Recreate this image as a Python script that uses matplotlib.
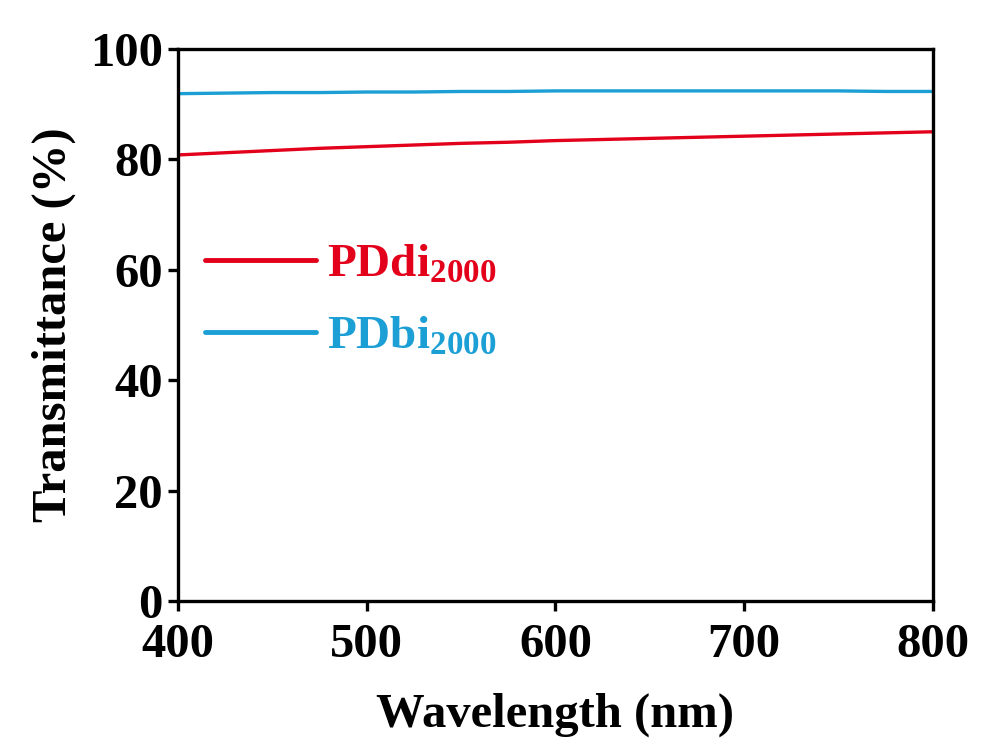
import matplotlib.pyplot as plt

# Wavelength (nm) and transmittance (%)
wavelength = [400, 425, 450, 475, 500, 525, 550, 575, 600, 625, 650, 675, 700, 725, 750, 775, 800]
pddi = [80.8, 81.2, 81.6, 82.0, 82.3, 82.6, 82.9, 83.1, 83.4, 83.6, 83.8, 84.0, 84.2, 84.4, 84.6, 84.8, 85.0]
pdbi = [91.9, 92.0, 92.1, 92.1, 92.2, 92.2, 92.3, 92.3, 92.4, 92.4, 92.4, 92.4, 92.4, 92.4, 92.4, 92.3, 92.3]

red = '#e3001b'
blue = '#1b9fd5'

plt.rcParams['font.family'] = 'Liberation Serif'
plt.rcParams['font.weight'] = 'bold'
plt.rcParams['mathtext.fontset'] = 'custom'
plt.rcParams['mathtext.rm'] = 'Liberation Serif:bold'
plt.rcParams['mathtext.bf'] = 'Liberation Serif:bold'

fig = plt.figure(figsize=(9.81, 7.53), dpi=100)
ax = fig.add_axes([0.1815, 0.2018, 0.7695, 0.7332])

# Draw the two spectra
ax.plot(wavelength, pddi, color=red, lw=2.4, label=r'$\mathrm{PDdi_{2000}}$')
ax.plot(wavelength, pdbi, color=blue, lw=2.4, label=r'$\mathrm{PDbi_{2000}}$')

ax.set_xlim(400, 800)
ax.set_ylim(0, 100)
ax.set_xticks([400, 500, 600, 700, 800])
ax.set_yticks([0, 20, 40, 60, 80, 100])

# Only left and bottom ticks, pointing outward
for s in ax.spines.values():
    s.set_linewidth(2.4)
ax.tick_params(direction='out', length=7, width=2.4, labelsize=35, pad=4)
ax.tick_params(axis='x', pad=9)
ax.set_xlabel('Wavelength (nm)', fontsize=35, fontweight='bold', labelpad=18)
ax.set_ylabel('Transmittance (%)', fontsize=35, fontweight='bold', labelpad=10)

leg = ax.legend(loc='upper left', bbox_to_anchor=(-0.021, 0.725), frameon=False,
                fontsize=34, handlelength=2.35, handletextpad=0.25, labelspacing=0.62)
for line in leg.get_lines():
    line.set_linewidth(3.5)
    line.set_solid_capstyle('round')
for txt, c in zip(leg.get_texts(), [red, blue]):
    txt.set_color(c)

plt.savefig('out.png', dpi=100)
